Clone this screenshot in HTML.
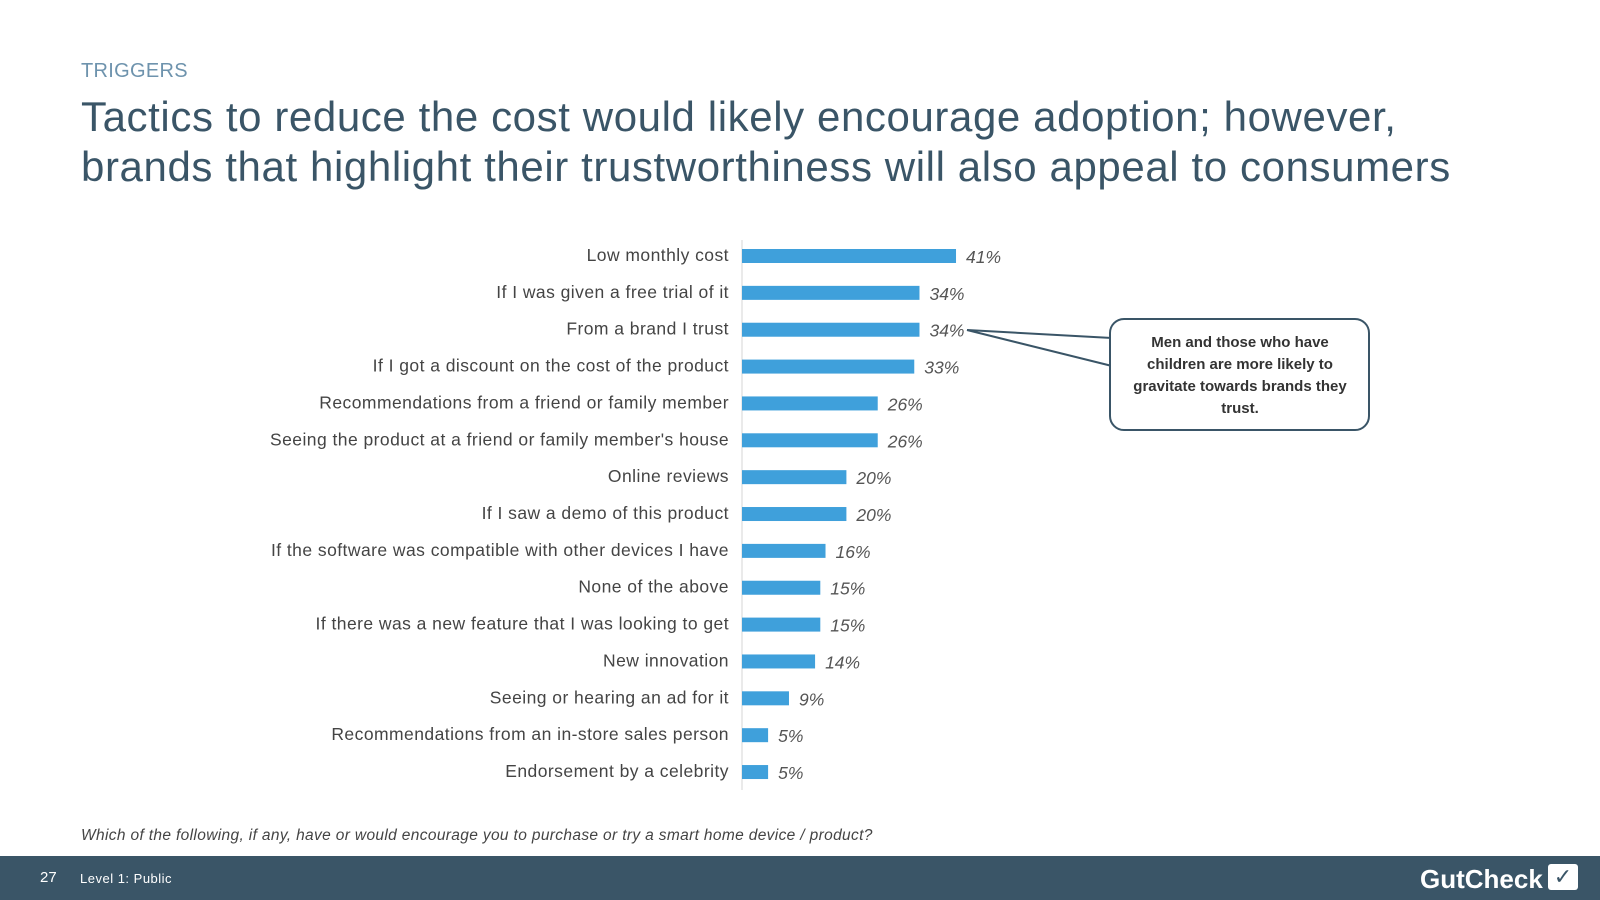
<!DOCTYPE html>
<html><head><meta charset="utf-8"><style>
body{margin:0;width:1600px;height:900px;position:relative;background:#fff;font-family:"Liberation Sans","DejaVu Sans",sans-serif;overflow:hidden}
.abs{position:absolute}
</style></head><body>
<div class="abs" style="left:81px;top:60px;font-size:20px;color:#6e93ad;letter-spacing:0.3px">TRIGGERS</div>
<div class="abs" style="left:81px;top:92px;font-size:42px;line-height:50px;color:#3a5567;letter-spacing:0.6px">Tactics to reduce the cost would likely encourage adoption; however,<br>brands that highlight their trustworthiness will also appeal to consumers</div>
<svg class="abs" style="left:0;top:0" width="1600" height="900">
<line x1="742" y1="240" x2="742" y2="790" stroke="#e4e4e4" stroke-width="1.5"/>
<g id="bars"></g>
<polyline points="967,330 1112,338" fill="none" stroke="#3a5567" stroke-width="2"/>
<polyline points="967,330 1112,366" fill="none" stroke="#3a5567" stroke-width="2"/>
<rect x="1110" y="319" width="259" height="111" rx="14" fill="#fff" stroke="#3a5567" stroke-width="2"/>
<text x="1240" y="347" text-anchor="middle" font-size="15" fill="#333" font-weight="bold"><tspan x="1240">Men and those who have</tspan><tspan x="1240" dy="22">children are more likely to</tspan><tspan x="1240" dy="22">gravitate towards brands they</tspan><tspan x="1240" dy="22">trust.</tspan></text>
</svg>
<div class="abs" style="left:81px;top:827px;font-size:15.5px;font-style:italic;color:#444;letter-spacing:0.35px">Which of the following, if any, have or would encourage you to purchase or try a smart home device / product?</div>
<div class="abs" style="left:0;top:856px;width:1600px;height:44px;background:#3a5567">
<span class="abs" style="left:40px;top:13px;color:#fff;font-size:15px">27</span>
<span class="abs" style="left:80px;top:15px;color:#fff;font-size:13px;letter-spacing:0.5px">Level 1: Public</span>
<span class="abs" style="left:1420px;top:8px;color:#fff;font-size:26px;font-weight:bold">GutCheck</span>
<span class="abs" style="left:1548px;top:8px;width:30px;height:26px;background:#fff;border-radius:3px;color:#3a5567;font-size:22px;line-height:26px;text-align:center;font-weight:bold">✓</span>
</div>
<script>
const categories=["Low monthly cost","If I was given a free trial of it","From a brand I trust","If I got a discount on the cost of the product","Recommendations from a friend or family member","Seeing the product at a friend or family member's house","Online reviews","If I saw a demo of this product","If the software was compatible with other devices I have","None of the above","If there was a new feature that I was looking to get","New innovation","Seeing or hearing an ad for it","Recommendations from an in-store sales person","Endorsement by a celebrity"];
const values=[41,34,34,33,26,26,20,20,16,15,15,14,9,5,5];
const valueLabels=["41%","34%","34%","33%","26%","26%","20%","20%","16%","15%","15%","14%","9%","5%","5%"];
const NS="http://www.w3.org/2000/svg";
const x0=742,pxPer=5.22,y0=256,step=36.86,bh=14;
const xs=v=>x0+v*pxPer, ys=i=>y0+i*step;
const g=document.getElementById('bars');
categories.forEach((c,i)=>{
 const r=document.createElementNS(NS,'rect');
 r.setAttribute('x',x0);r.setAttribute('y',ys(i)-bh/2);r.setAttribute('width',xs(values[i])-x0);r.setAttribute('height',bh);r.setAttribute('fill','#3fa0db');
 
 
 g.appendChild(r);
 const t=document.createElementNS(NS,'text');
 t.setAttribute('x',729);t.setAttribute('y',ys(i)+5);t.setAttribute('text-anchor','end');t.setAttribute('font-size','17.5');t.setAttribute('letter-spacing','0.45');t.setAttribute('fill','#444');t.textContent=c;
 
 
 g.appendChild(t);
 const v=document.createElementNS(NS,'text');
 v.setAttribute('x',xs(values[i])+10);v.setAttribute('y',ys(i)+7);v.setAttribute('font-size','17.5');v.setAttribute('font-style','italic');v.setAttribute('fill','#555');v.textContent=valueLabels[i];
 
 
 g.appendChild(v);
});
</script>
</body></html>
